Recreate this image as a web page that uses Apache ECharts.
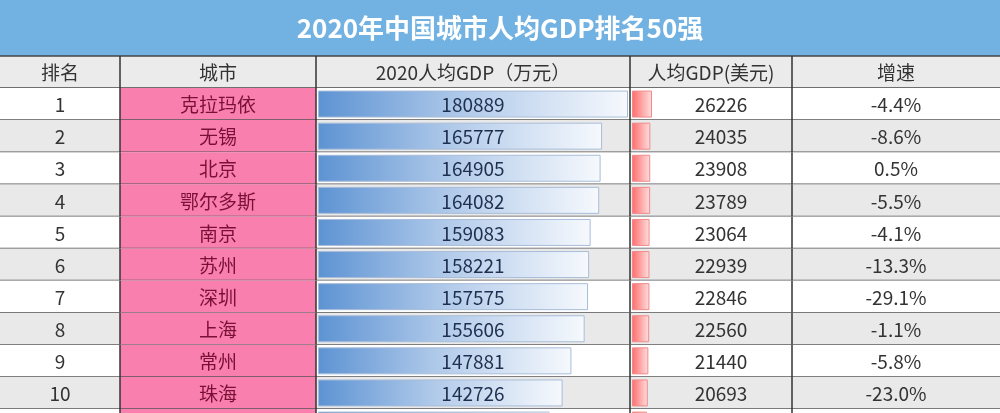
<!DOCTYPE html>
<html><head><meta charset="utf-8">
<script src="https://cdn.jsdelivr.net/npm/echarts@6/dist/echarts.min.js"></script>
<style>html,body{margin:0;padding:0;background:#fff}#main{width:1000px;height:413px}</style>
</head><body><div id="main"></div>
<script>
var ranks = ['1','2','3','4','5','6','7','8','9','10','11'];
var cities = ['克拉玛依','无锡','北京','鄂尔多斯','南京','苏州','深圳','上海','常州','珠海','广州'];
var gdpCny = [180889,165777,164905,164082,159083,158221,157575,155606,147881,142726,135047];
var gdpUsd = [26226,24035,23908,23789,23064,22939,22846,22560,21440,20693,19577];
var growth = ['-4.4%','-8.6%','0.5%','-5.5%','-4.1%','-13.3%','-29.1%','-1.1%','-5.8%','-23.0%','-6.2%'];
var headers = ['排名','城市','2020人均GDP（万元）','人均GDP(美元)','增速'];

var cols = [0,120,316,630,792,1000];
var rowTop = 88, rowH = 32.1;
var gridH = rowH * ranks.length;
var font = '"Noto Sans CJK SC", sans-serif';

var chart = echarts.init(document.getElementById('main'));

function yAx(i){ return {type:'category', data:ranks, inverse:true, gridIndex:i, show:false}; }

function bgItem(params, api){
  var i = params.dataIndex;
  var y = api.coord([0, i])[1], h = api.size([0,1])[1];
  var top = y - h/2;
  var kids = [{type:'rect', shape:{x:0,y:top,width:1000,height:h}, style:{fill: i%2 ? '#e9e9e9' : '#ffffff'}},
    {type:'rect', shape:{x:cols[1],y:top,width:cols[2]-cols[1],height:h}, style:{fill:'#f97fae'}},
    {type:'line', shape:{x1:0,y1:top+h,x2:1000,y2:top+h}, style:{stroke:'#555',lineWidth:1.5}}];
  for (var c=1;c<5;c++) kids.push({type:'line', shape:{x1:cols[c],y1:top,x2:cols[c],y2:top+h}, style:{stroke:'#333',lineWidth:1.5}});
  return {type:'group', children:kids};
}

function textItem(params, api){
  var i = params.dataIndex;
  var y = api.coord([0, i])[1];
  var vals = [ranks[i], cities[i], String(gdpCny[i]), String(gdpUsd[i]), growth[i]];
  var kids = [];
  for (var c=0;c<5;c++){
    kids.push({type:'text', style:{text:vals[c], x:(cols[c]+cols[c+1])/2 + (c==3?10:0), y:y+1, align:'center', verticalAlign:'middle',
      font:'19px ' + font, fill: c==1 ? '#7a1035' : (c==2 ? '#1f2f4f' : '#333')}});
  }
  return {type:'group', children:kids};
}

var option = {
  animation:false,
  graphic:[
    {type:'rect', shape:{x:0,y:0,width:1000,height:56}, style:{fill:'#72b2e2'}},
    {type:'text', style:{text:'2020年中国城市人均GDP排名50强', x:500, y:28, align:'center', verticalAlign:'middle', font:'bold 26px ' + font, fill:'#fff'}},
    {type:'rect', shape:{x:0,y:56,width:1000,height:32}, style:{fill:'#ebebeb'}},
    {type:'line', shape:{x1:0,y1:56,x2:1000,y2:56}, style:{stroke:'#444',lineWidth:1.5}},
    {type:'line', shape:{x1:0,y1:88,x2:1000,y2:88}, style:{stroke:'#444',lineWidth:1.5}}
  ].concat(headers.map(function(h, c){
    return {type:'text', style:{text:h, x:(cols[c]+cols[c+1])/2, y:73, align:'center', verticalAlign:'middle', font:'19px ' + font, fill:'#333'}};
  })).concat([1,2,3,4].map(function(c){
    return {type:'line', shape:{x1:cols[c],y1:56,x2:cols[c],y2:88}, style:{stroke:'#333',lineWidth:1.5}};
  })),
  grid:[
    {left:0, width:1000, top:rowTop, height:gridH, outerBoundsMode:'none'},
    {left:318, width:310, top:rowTop, height:gridH, outerBoundsMode:'none'},
    {left:632, width:20, top:rowTop, height:gridH, outerBoundsMode:'none'}
  ],
  xAxis:[
    {type:'value', gridIndex:0, min:0, max:1000, show:false},
    {type:'value', gridIndex:1, min:0, max:180889, show:false},
    {type:'value', gridIndex:2, min:0, max:26226, show:false}
  ],
  yAxis:[yAx(0), yAx(1), yAx(2)],
  series:[
    {type:'custom', xAxisIndex:0, yAxisIndex:0, z:1, data:ranks, renderItem:bgItem, silent:true},
    {type:'bar', xAxisIndex:1, yAxisIndex:1, z:2, data:gdpCny, barWidth:27, silent:true,
      itemStyle:{borderColor:'#a8bcd8', borderWidth:1,
        color:new echarts.graphic.LinearGradient(0,0,1,0,[{offset:0,color:'#5d93d3'},{offset:0.5,color:'#b5cdeb'},{offset:1,color:'#f6f9fd'}])}},
    {type:'bar', xAxisIndex:2, yAxisIndex:2, z:2, data:gdpUsd, barWidth:27, silent:true,
      itemStyle:{borderColor:'#f08a8a', borderWidth:1,
        color:new echarts.graphic.LinearGradient(0,0,1,0,[{offset:0,color:'#ff6b6b'},{offset:1,color:'#ffe0e0'}])}},
    {type:'custom', xAxisIndex:0, yAxisIndex:0, z:5, data:ranks, renderItem:textItem, silent:true}
  ]
};
chart.setOption(option);
</script></body></html>
